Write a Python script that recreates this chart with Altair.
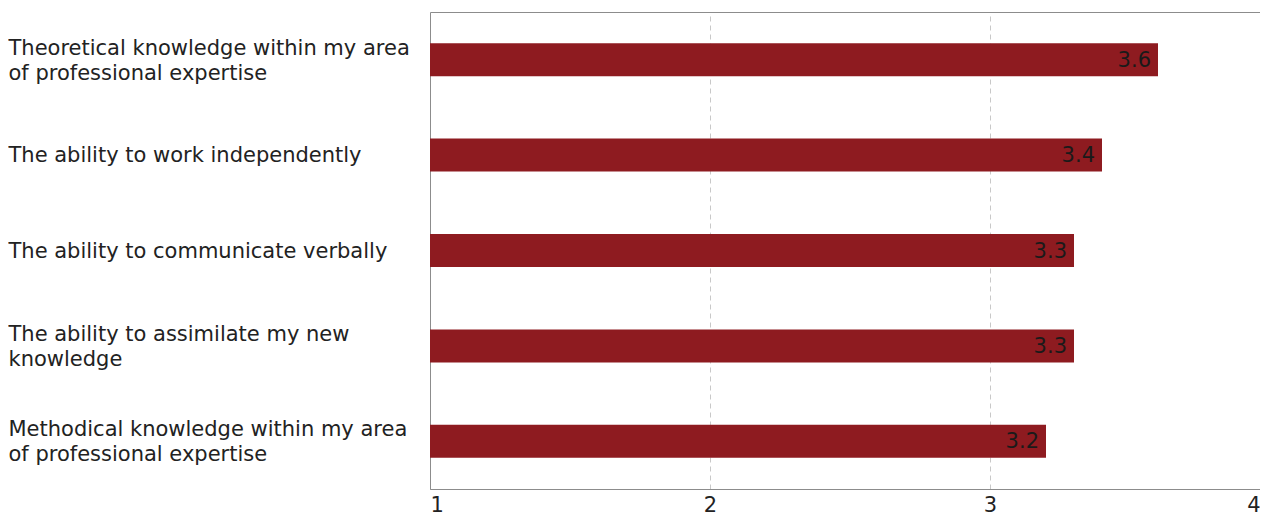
import altair as alt
import pandas as pd

categories = [
    "Theoretical knowledge within my area|of professional expertise",
    "The ability to work independently",
    "The ability to communicate verbally",
    "The ability to assimilate my new|knowledge",
    "Methodical knowledge within my area|of professional expertise",
]
values = [3.6, 3.4, 3.3, 3.3, 3.2]
labels = ["3.6", "3.4", "3.3", "3.3", "3.2"]
x_ticks = [1, 2, 3, 4]
axis_start = 1

df = pd.DataFrame({"cat": categories, "value": values, "label": labels})

FONT = "DejaVu Sans"
FS = 21

y = alt.Y(
    "cat:N",
    sort=categories,
    title=None,
    scale=alt.Scale(paddingInner=0, paddingOuter=0),
    axis=alt.Axis(
        labelExpr="split(datum.label, '|')",
        labelAlign="left",
        labelPadding=422,
        labelBaseline="middle",
        labelLineHeight=25,
        labelFontSize=FS,
        labelFont=FONT,
        labelColor="#222222",
        labelLimit=0,
        labelOffset={"condition": {"test": "indexof(datum.value, '|') >= 0", "value": -11}, "value": 1},
        ticks=False,
        tickSize=0,
        domain=False,
        grid=False,
    ),
)

x = alt.X(
    "value:Q",
    title=None,
    scale=alt.Scale(domain=[1, 4], nice=False, zero=False),
    axis=alt.Axis(
        values=x_ticks,
        format="d",
        labelFlush=True,
        labelPadding=5,
        labelFontSize=FS,
        labelFont=FONT,
        labelColor="#222222",
        labelOffset={"condition": {"test": "datum.value == 4", "value": -10}, "value": 0},
        ticks=False,
        tickSize=0,
        domain=True,
        domainColor="#8c8c8c",
        grid=True,
        gridColor="#c8c8c8",
        gridOpacity={"condition": {"test": "datum.value == 1", "value": 0}, "value": 1},
        gridDash=[5, 4],
        gridWidth=1,
    ),
)

bars = alt.Chart(df).mark_bar(size=33, color="#8E1B20").encode(
    x=x, x2=alt.datum(axis_start), y=y
)

text = alt.Chart(df).mark_text(
    align="right", baseline="middle", dx=-7, dy=1, fontSize=FS, font=FONT, color="#1a1a1a"
).encode(x=alt.X("value:Q"), y=alt.Y("cat:N", sort=categories), text="label:N")

chart = (
    alt.layer(bars, text)
    .properties(
        width=840,
        height=477,
        autosize=alt.AutoSizeParams(type="none"),
        padding={"left": 422, "top": 4, "right": -10, "bottom": 28},
    )
    .configure_view(stroke="#8c8c8c", strokeWidth=1)
)

chart.save("out.html", embed_options={"renderer": "svg", "actions": False})
